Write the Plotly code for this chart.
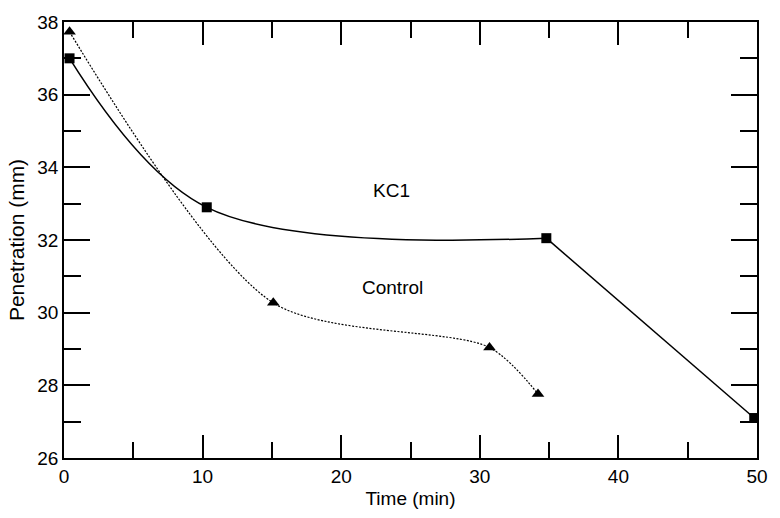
import plotly.graph_objects as go

# Penetration readings over time for the two mixes
kc1_time = [0.4, 10.3, 34.8, 49.8]
kc1_pen = [37.0, 32.9, 32.05, 27.1]

control_time = [0.4, 15.1, 30.7, 34.2]
control_pen = [37.73, 30.27, 29.04, 27.76]

x_ticks = [0, 10, 20, 30, 40, 50]
y_ticks = [26, 28, 30, 32, 34, 36, 38]

FONT = "Liberation Sans, Arial, Helvetica, sans-serif"
SIZE = 19

fig = go.Figure()

# KC1: smooth curve over the first three readings, straight run to the last one
fig.add_trace(go.Scatter(
    x=kc1_time[:3], y=kc1_pen[:3], mode="lines",
    line=dict(color="black", width=1.5, shape="spline", smoothing=1.0),
    hoverinfo="skip", showlegend=False,
))
fig.add_trace(go.Scatter(
    x=kc1_time[2:], y=kc1_pen[2:], mode="lines",
    line=dict(color="black", width=1.5),
    hoverinfo="skip", showlegend=False,
))
fig.add_trace(go.Scatter(
    x=kc1_time, y=kc1_pen, mode="markers", name="KC1",
    marker=dict(symbol="square", size=10, color="black"),
    showlegend=False,
))

# Control: dotted smooth curve with triangle markers
fig.add_trace(go.Scatter(
    x=control_time, y=control_pen, mode="lines",
    line=dict(color="black", width=1.2, dash="2px,1.5px", shape="spline", smoothing=0.8),
    hoverinfo="skip", showlegend=False,
))
fig.add_trace(go.Scatter(
    x=control_time, y=control_pen, mode="markers", name="Control",
    marker=dict(symbol="triangle-up", size=11, color="black"),
    showlegend=False,
))

fig.add_annotation(x=23.6, y=33.36, text="KC1", showarrow=False,
                   font=dict(family=FONT, size=SIZE, color="black"))
fig.add_annotation(x=23.7, y=30.7, text="Control", showarrow=False,
                   font=dict(family=FONT, size=SIZE, color="black"))

axis_common = dict(
    showline=True, linecolor="black", linewidth=1.5, mirror="ticks",
    ticks="inside", tickcolor="black", tickwidth=1.5,
    showgrid=False, zeroline=False,
    tickfont=dict(family=FONT, size=SIZE, color="black"),
)

fig.update_xaxes(
    range=[0, 50], tickvals=x_ticks, ticklen=23,
    minor=dict(ticks="inside", ticklen=16, dtick=5, tickcolor="black", tickwidth=1.5, showgrid=False),
    title=dict(text="Time (min)", font=dict(family=FONT, size=SIZE, color="black"), standoff=6),
    **axis_common,
)
fig.update_yaxes(
    range=[26, 38], tickvals=y_ticks, ticklen=26,
    minor=dict(ticks="inside", ticklen=17, dtick=1, tickcolor="black", tickwidth=1.5, showgrid=False),
    title=dict(text="Penetration (mm)", font=dict(family=FONT, size=21, color="black"), standoff=7),
    **axis_common,
)

fig.update_layout(
    width=780, height=518,
    margin=dict(l=64, r=13, t=17, b=49),
    plot_bgcolor="white", paper_bgcolor="white",
    font=dict(family=FONT, size=SIZE, color="black"),
)

fig.write_html("out.html")
